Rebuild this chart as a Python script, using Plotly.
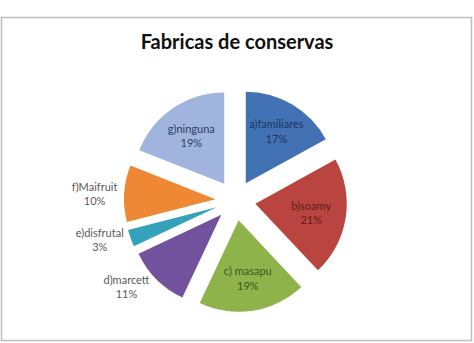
import plotly.graph_objects as go

labels = ["a)familiares", "b)soamy", "c) masapu", "d)marcett", "e)disfrutal", "f)Maifruit", "g)ninguna"]
values = [17, 21, 19, 11, 3, 10, 19]
colors = ["#4372B4", "#BA4440", "#8FB34B", "#72529C", "#35A2BB", "#EE8835", "#A0B4DD"]
text_positions = ["inside", "inside", "inside", "outside", "outside", "outside", "inside"]
text_colors = ["#1B3560", "#5A1E1C", "#3E5520", "#595959", "#595959", "#595959", "#2E3E60"]

fig = go.Figure(go.Pie(
    labels=labels,
    values=values,
    sort=False,
    direction="clockwise",
    rotation=0,
    pull=0.22,
    marker=dict(colors=colors, line=dict(width=0)),
    texttemplate="%{label}<br>%{value}%",
    textposition=text_positions,
    insidetextorientation="horizontal",
    textfont=dict(family="Lato", size=11, color=text_colors),
    showlegend=False,
    hoverinfo="label+percent",
    automargin=False,
    domain=dict(x=[124 / 474, 347 / 474], y=[1 - 312 / 343, 1 - 89 / 343]),
))

fig.update_layout(
    width=474,
    height=343,
    autosize=False,
    margin=dict(l=0, r=0, t=0, b=0, pad=0, autoexpand=False),
    paper_bgcolor="white",
    plot_bgcolor="white",
    title=dict(
        text="<b>Fabricas de conservas</b>",
        x=0.5,
        xanchor="center",
        y=1 - 42 / 343,
        yanchor="middle",
        font=dict(family="Lato", size=20, color="#111111"),
    ),
    shapes=[dict(
        type="rect", xref="paper", yref="paper",
        x0=1.5 / 474, x1=471.5 / 474, y0=1 - 340.5 / 343, y1=1 - 17.5 / 343,
        line=dict(color="#BDBDBD", width=1.5), fillcolor="rgba(0,0,0,0)",
    )],
)

fig.write_html("out.html", config={"responsive": False}, default_width="474px", default_height="343px")
